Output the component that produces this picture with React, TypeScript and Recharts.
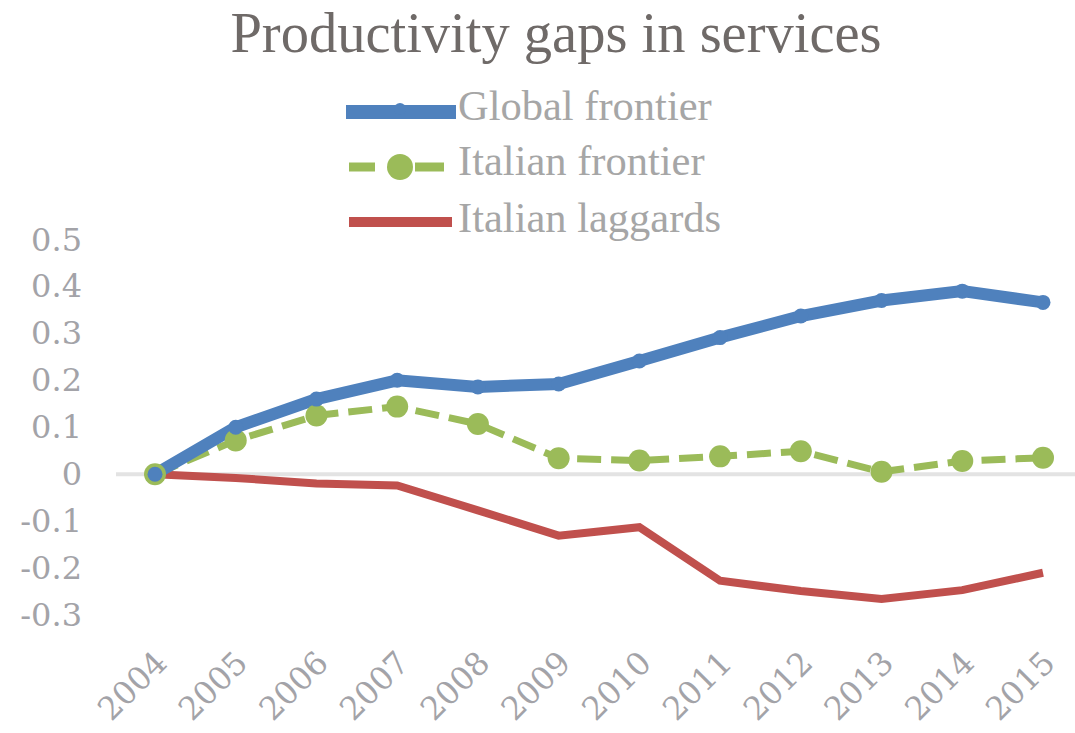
import React from 'react';
import { LineChart, Line, XAxis, YAxis, CartesianGrid, Legend } from 'recharts';

const years = ['2004', '2005', '2006', '2007', '2008', '2009', '2010', '2011', '2012', '2013', '2014', '2015'];
const globalFrontier = [0, 0.1, 0.16, 0.2, 0.186, 0.192, 0.241, 0.291, 0.337, 0.37, 0.39, 0.366];
const italianFrontier = [0, 0.072, 0.125, 0.144, 0.107, 0.034, 0.029, 0.038, 0.049, 0.005, 0.028, 0.035];
const italianLaggards = [0, -0.008, -0.02, -0.024, -0.077, -0.131, -0.113, -0.227, -0.249, -0.266, -0.247, -0.21];
const yTicks = [-0.3, -0.2, -0.1, 0, 0.1, 0.2, 0.3, 0.4, 0.5];

const seriesNames = {
  global: 'Global frontier',
  italian: 'Italian frontier',
  laggards: 'Italian laggards',
};

const data = years.map((year, i) => ({
  year,
  global: globalFrontier[i],
  italian: italianFrontier[i],
  laggards: italianLaggards[i],
}));

const BLUE = '#4f81bd';
const GREEN = '#9bbb59';
const RED = '#c0504d';
const TICK_COLOR = '#a3a3a8';

const XTick = (props: any) => {
  const { x, y, payload } = props;
  const tx = x + 6;
  const ty = y + 42;
  return (
    <text
      x={tx}
      y={ty}
      transform={`rotate(-45, ${tx}, ${ty})`}
      textAnchor="end"
      dominantBaseline="central"
      fill={TICK_COLOR}
      fontFamily="'DejaVu Serif', serif"
      fontSize={32}
    >
      {payload.value}
    </text>
  );
};

const YTick = (props: any) => {
  const { x, y, payload } = props;
  const v = Number(payload.value);
  const label = Math.abs(v) < 1e-9 ? '0' : v.toFixed(1);
  return (
    <text
      x={x}
      y={y}
      textAnchor="end"
      dominantBaseline="central"
      fill={TICK_COLOR}
      fontFamily="'DejaVu Serif', serif"
      fontSize={32}
    >
      {label}
    </text>
  );
};

const LegendContent = (props: any) => {
  const { payload } = props;
  const rows = [
    { cy: 32, base: 40 },
    { cy: 87, base: 95 },
    { cy: 142, base: 152 },
  ];
  return (
    <svg width={420} height={170} style={{ display: 'block' }}>
      {(payload || []).map((entry: any, i: number) => {
        const r = rows[i] || rows[0];
        let icon = null;
        if (entry.dataKey === 'global') {
          icon = (
            <g>
              <line x1={6} x2={116} y1={r.cy} y2={r.cy} stroke={entry.color} strokeWidth={14} />
              <circle cx={60} cy={r.cy - 3} r={6} fill={entry.color} />
            </g>
          );
        } else if (entry.dataKey === 'italian') {
          icon = (
            <g>
              <line x1={9} x2={35} y1={r.cy} y2={r.cy} stroke={entry.color} strokeWidth={9} />
              <circle cx={60} cy={r.cy} r={13} fill={entry.color} />
              <line x1={75} x2={104} y1={r.cy} y2={r.cy} stroke={entry.color} strokeWidth={9} />
            </g>
          );
        } else {
          icon = <line x1={9} x2={112} y1={r.cy} y2={r.cy} stroke={entry.color} strokeWidth={10} />;
        }
        return (
          <g key={entry.value}>
            {icon}
            <text
              x={118}
              y={r.base}
              fill="#a6a6a6"
              fontFamily="'Liberation Serif', serif"
              fontSize={42.5}
            >
              {entry.value}
            </text>
          </g>
        );
      })}
    </svg>
  );
};

export default function App() {
  return (
    <div
      style={{
        position: 'absolute',
        left: 0,
        top: 0,
        width: 1075,
        height: 733,
        background: '#ffffff',
        overflow: 'hidden',
      }}
    >
      <LineChart
        width={1075}
        height={733}
        data={data}
        margin={{ top: 239.5, right: 0, left: 0, bottom: 18 }}
      >
        <CartesianGrid
          vertical={false}
          horizontalValues={[0]}
          stroke="#e3e3e3"
          strokeWidth={4}
        />
        <XAxis
          dataKey="year"
          axisLine={false}
          tickLine={false}
          tickSize={0}
          tickMargin={0}
          height={100}
          interval={0}
          padding={{ left: 39, right: 32 }}
          tick={<XTick />}
        />
        <YAxis
          domain={[-0.3, 0.5]}
          ticks={yTicks}
          axisLine={false}
          tickLine={false}
          tickSize={0}
          tickMargin={34}
          width={116}
          interval={0}
          tick={<YTick />}
        />
        <Legend
          layout="vertical"
          align="center"
          verticalAlign="middle"
          wrapperStyle={{ top: 80, left: 340, width: 420, height: 170 }}
          content={<LegendContent />}
        />
        <Line
          dataKey="laggards"
          name={seriesNames.laggards}
          stroke={RED}
          strokeWidth={8}
          dot={false}
          activeDot={false}
          isAnimationActive={false}
        />
        <Line
          dataKey="italian"
          name={seriesNames.italian}
          stroke={GREEN}
          strokeWidth={7}
          strokeDasharray="24 10"
          dot={{ r: 11, fill: GREEN, stroke: 'none' }}
          activeDot={false}
          isAnimationActive={false}
        />
        <Line
          dataKey="global"
          name={seriesNames.global}
          stroke={BLUE}
          strokeWidth={12}
          dot={{ r: 7.5, fill: BLUE, stroke: 'none' }}
          activeDot={false}
          isAnimationActive={false}
        />
      </LineChart>
      <svg
        width={1075}
        height={80}
        style={{ position: 'absolute', left: 0, top: 0, pointerEvents: 'none' }}
      >
        <text
          x={556}
          y={52}
          textAnchor="middle"
          fill="#6f6a68"
          fontFamily="'Liberation Serif', serif"
          fontSize={56.5}
        >
          Productivity gaps in services
        </text>
      </svg>
    </div>
  );
}
